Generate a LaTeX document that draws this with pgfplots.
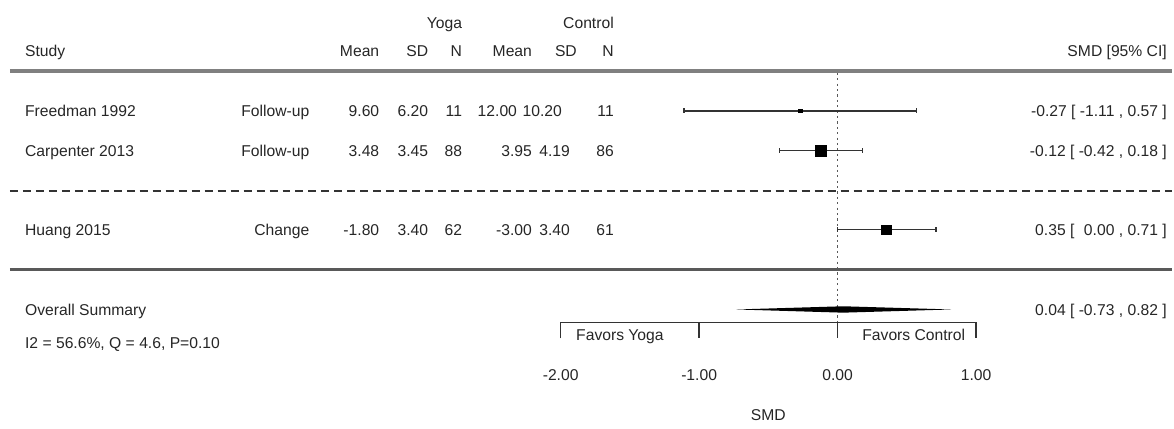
\documentclass[border=0pt]{standalone}
\usepackage{pgfplots}
\pgfplotsset{compat=1.18}
\usepackage{fontspec}
\setmainfont{Liberation Sans}
\newcommand\fs{\fontsize{15.7pt}{18pt}\selectfont}
\begin{document}
\fs
\begin{tikzpicture}[font=\fs]
\begin{axis}[
  width=1174pt, height=429pt, scale only axis,
  xmin=-6.0490, xmax=2.4153, ymin=0, ymax=429,
  axis line style={draw=none}, tick style={draw=none},
  ytick=\empty, xtick={-2,-1,0,1}, xticklabels={-2.00,-1.00,0.00,1.00},
  xticklabel style={anchor=base, yshift=48.3pt, font=\fs, text=black!85, inner sep=0pt},
  clip=false,
  nodes={font=\fs, text=black!85, inner sep=0pt},
]
\path (rel axis cs:0,0) rectangle (rel axis cs:1,1);
% separators
\addplot[black!50, line width=4pt] coordinates {(-5.977,358) (2.4153,358)};
\addplot[black!65, line width=3pt] coordinates {(-5.977,159) (2.4153,159)};
\addplot[black!80, line width=1.8pt, dash pattern=on 8pt off 5pt] coordinates {(-5.977,238) (2.4153,238)};
% reference line
\addplot[black!65, line width=1.8pt, dash pattern=on 2.2pt off 3.2pt] coordinates {(0,356) (0,106)};
% bracket
\addplot[black!80, line width=1.5pt] coordinates {(-2,90) (-2,106) (1,106) (1,90)};
\addplot[black!80, line width=1.5pt] coordinates {(-1,106) (-1,90)};
\addplot[black!80, line width=1.5pt] coordinates {(0,106) (0,90)};
% confidence intervals
\addplot[black!80, line width=1.5pt, mark=|, mark size=2.5pt] coordinates {(-1.11,318) (0.57,318)};
\addplot[black!80, line width=1.5pt, mark=|, mark size=2.5pt] coordinates {(-0.42,278) (0.18,278)};
\addplot[black!80, line width=1.5pt, mark=|, mark size=2.5pt] coordinates {(0.00,199) (0.71,199)};
% point estimates
\addplot[only marks, mark=square*, mark size=1.6pt, black] coordinates {(-0.27,318)};
\addplot[only marks, mark=square*, mark size=5.5pt, black] coordinates {(-0.12,278)};
\addplot[only marks, mark=square*, mark size=4.8pt, black] coordinates {(0.35,199)};
% summary diamond
\addplot[fill=black, draw=none] coordinates {(-0.73,119) (0.04,122.2) (0.82,119) (0.04,115.8)} -- cycle;
% header
\node[anchor=base east, font=\fs] at (axis cs:-2.711,400.3) {Yoga};
\node[anchor=base east, font=\fs] at (axis cs:-1.615,400.3) {Control};
\node[anchor=base west, font=\fs] at (axis cs:-5.869,372.3) {Study};
\node[anchor=base east, font=\fs] at (axis cs:-3.309,372.3) {Mean};
\node[anchor=base east, font=\fs] at (axis cs:-2.956,372.3) {SD};
\node[anchor=base east, font=\fs] at (axis cs:-2.711,372.3) {N};
\node[anchor=base east, font=\fs] at (axis cs:-2.206,372.3) {Mean};
\node[anchor=base east, font=\fs] at (axis cs:-1.882,372.3) {SD};
\node[anchor=base east, font=\fs] at (axis cs:-1.615,372.3) {N};
\node[anchor=base east, font=\fs] at (axis cs:2.379,372.3) {SMD [95\% CI]};
% Freedman
\node[anchor=base west, font=\fs] at (axis cs:-5.869,312.3) {Freedman 1992};
\node[anchor=base east, font=\fs] at (axis cs:-3.814,312.3) {Follow-up};
\node[anchor=base east, font=\fs] at (axis cs:-3.309,312.3) {9.60};
\node[anchor=base east, font=\fs] at (axis cs:-2.956,312.3) {6.20};
\node[anchor=base east, font=\fs] at (axis cs:-2.711,312.3) {11};
\node[anchor=base east, font=\fs] at (axis cs:-2.314,312.3) {12.00};
\node[anchor=base east, font=\fs] at (axis cs:-1.990,312.3) {10.20};
\node[anchor=base east, font=\fs] at (axis cs:-1.615,312.3) {11};
\node[anchor=base east, font=\fs] at (axis cs:2.379,312.3) {-0.27 [ -1.11 , 0.57 ]};
% Carpenter
\node[anchor=base west, font=\fs] at (axis cs:-5.869,272.3) {Carpenter 2013};
\node[anchor=base east, font=\fs] at (axis cs:-3.814,272.3) {Follow-up};
\node[anchor=base east, font=\fs] at (axis cs:-3.309,272.3) {3.48};
\node[anchor=base east, font=\fs] at (axis cs:-2.956,272.3) {3.45};
\node[anchor=base east, font=\fs] at (axis cs:-2.711,272.3) {88};
\node[anchor=base east, font=\fs] at (axis cs:-2.206,272.3) {3.95};
\node[anchor=base east, font=\fs] at (axis cs:-1.932,272.3) {4.19};
\node[anchor=base east, font=\fs] at (axis cs:-1.615,272.3) {86};
\node[anchor=base east, font=\fs] at (axis cs:2.379,272.3) {-0.12 [ -0.42 , 0.18 ]};
% Huang
\node[anchor=base west, font=\fs] at (axis cs:-5.869,193.3) {Huang 2015};
\node[anchor=base east, font=\fs] at (axis cs:-3.814,193.3) {Change};
\node[anchor=base east, font=\fs] at (axis cs:-3.309,193.3) {-1.80};
\node[anchor=base east, font=\fs] at (axis cs:-2.956,193.3) {3.40};
\node[anchor=base east, font=\fs] at (axis cs:-2.711,193.3) {62};
\node[anchor=base east, font=\fs] at (axis cs:-2.206,193.3) {-3.00};
\node[anchor=base east, font=\fs] at (axis cs:-1.932,193.3) {3.40};
\node[anchor=base east, font=\fs] at (axis cs:-1.615,193.3) {61};
\node[anchor=base east, font=\fs] at (axis cs:2.379,193.3) {0.35 [ \phantom{-}0.00 , 0.71 ]};
% summary
\node[anchor=base west, font=\fs] at (axis cs:-5.869,113.3) {Overall Summary};
\node[anchor=base west, font=\fs] at (axis cs:-5.869,80.3) {I2 = 56.6\%, Q = 4.6, P=0.10};
\node[anchor=base east, font=\fs] at (axis cs:2.379,113.3) {0.04 [ -0.73 , 0.82 ]};
\node[anchor=base west, font=\fs] at (axis cs:-1.889,88.3) {Favors Yoga};
\node[anchor=base east, font=\fs] at (axis cs:0.923,88.3) {Favors Control};
\node[anchor=base, font=\fs] at (axis cs:-0.5,8) {SMD};
\end{axis}
\end{tikzpicture}
\end{document}
